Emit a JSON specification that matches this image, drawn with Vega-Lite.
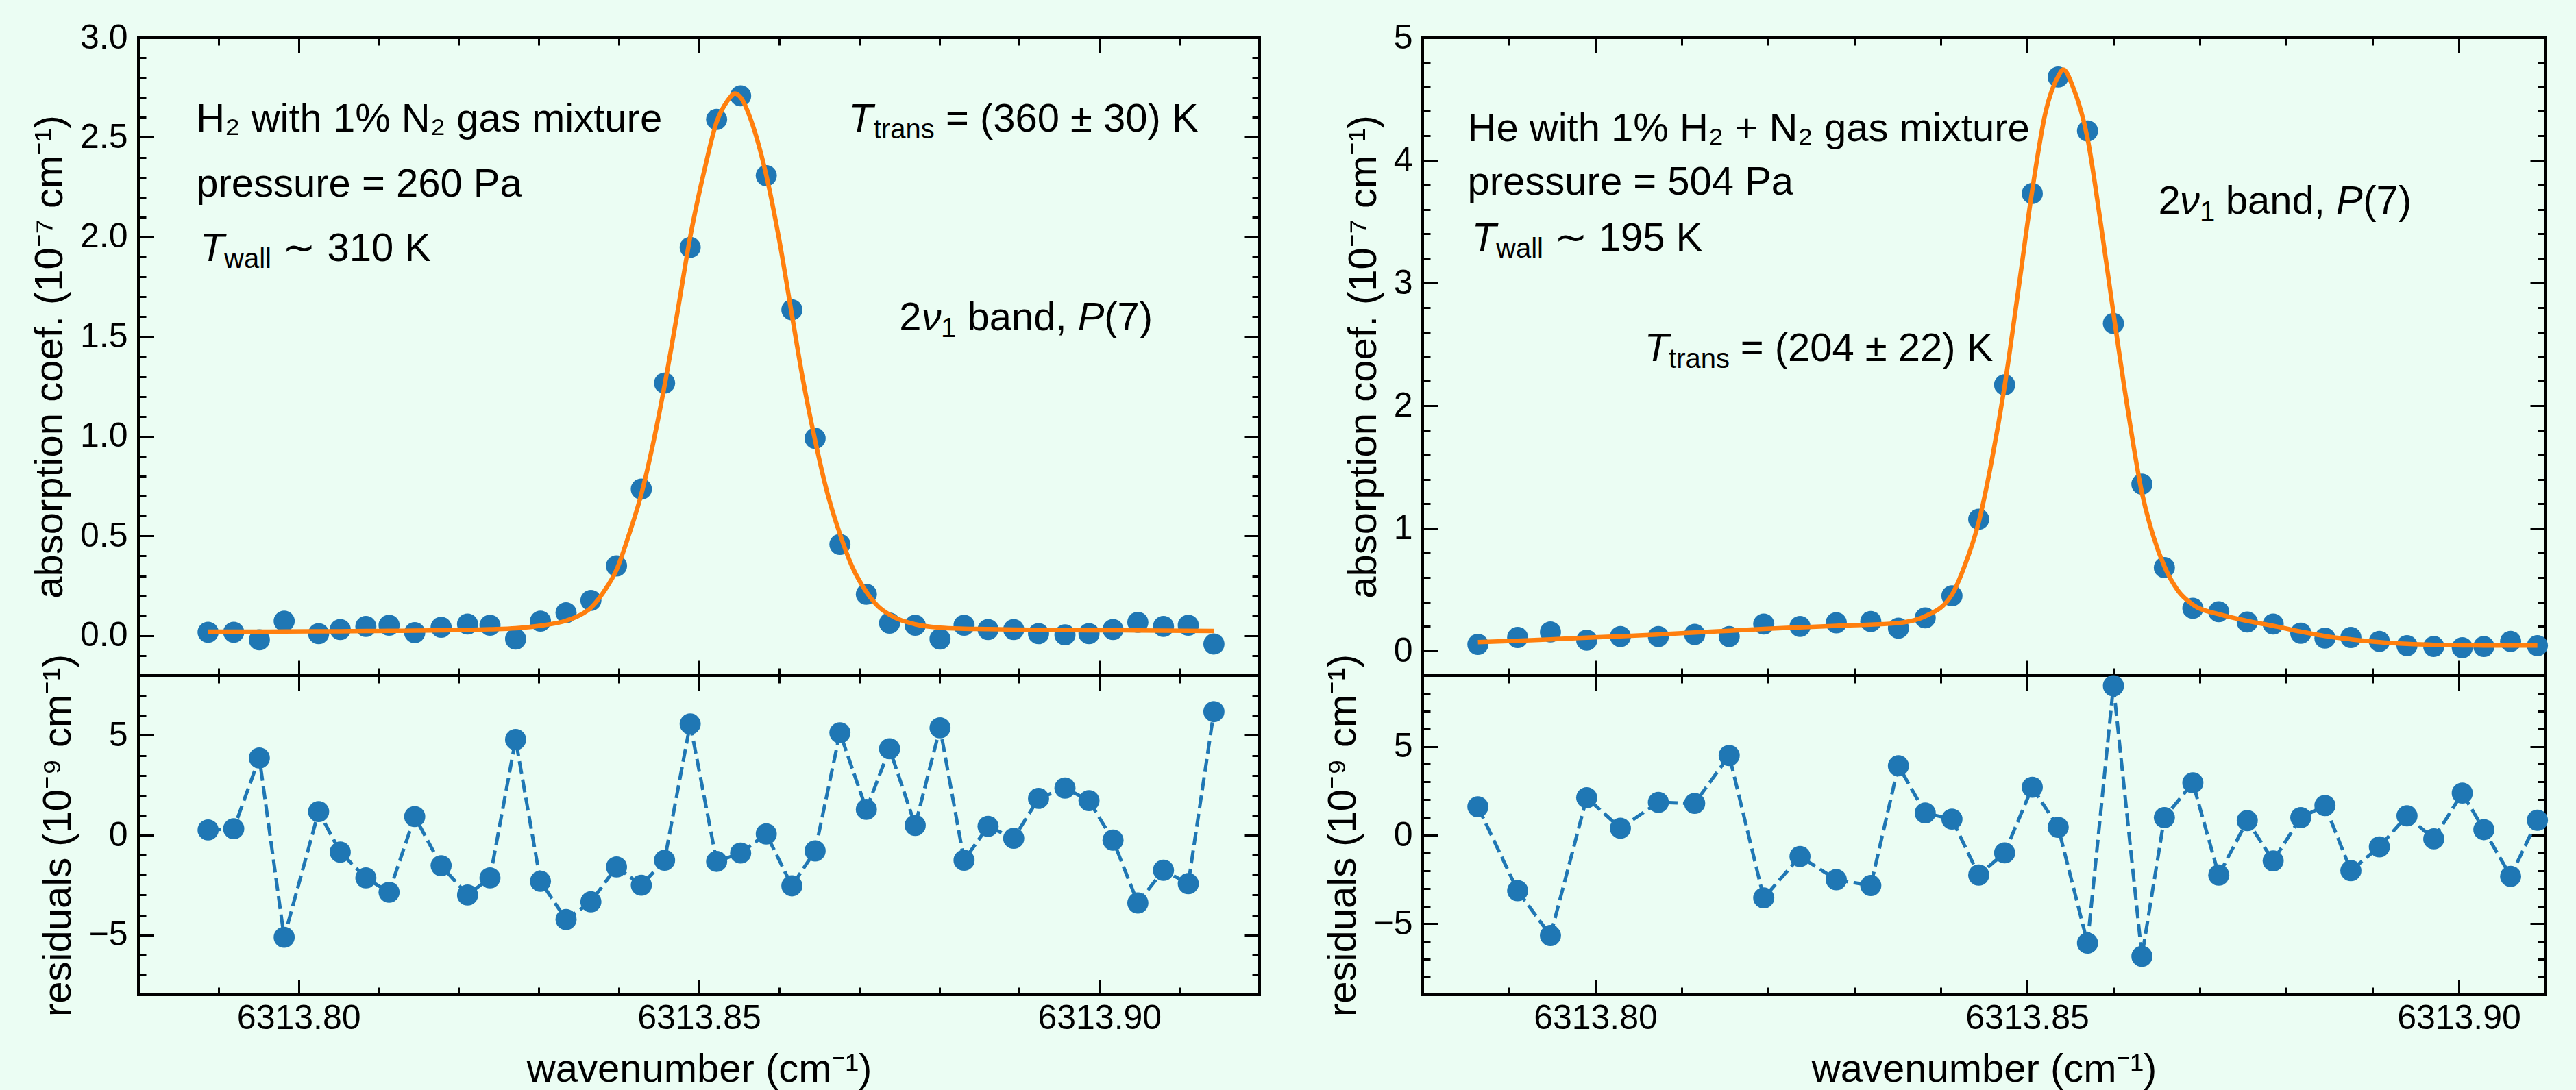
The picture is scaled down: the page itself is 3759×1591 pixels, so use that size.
{
"$schema": "https://vega.github.io/schema/vega-lite/v6.json",
"background": "#ebfdf3",
"padding": {"left": 42, "top": 28, "right": 47, "bottom": 5},
"config": {
  "view": {"stroke": "black", "strokeWidth": 4},
  "axis": {"labelFont": "Liberation Sans", "labelFontSize": 50, "labelColor": "black", "labelLimit": 1000, "titleFont": "Liberation Sans", "titleFontSize": 58, "titleFontWeight": "normal", "titleColor": "black", "titleLimit": 2000, "tickColor": "black", "tickWidth": 3, "domain": false, "grid": false, "labelFlush": false, "labelOverlap": false},
  "text": {"font": "Liberation Sans", "color": "black"}
},
"datasets": {
  "L": [
    {"x":6313.7887,"y":0.017,"r":0.26},{"x":6313.7919,"y":0.017,"r":0.32},{"x":6313.7951,"y":-0.021,"r":3.87},{"x":6313.7982,"y":0.073,"r":-5.12},
    {"x":6313.8025,"y":0.010,"r":1.18},{"x":6313.8052,"y":0.031,"r":-0.85},{"x":6313.8084,"y":0.046,"r":-2.14},{"x":6313.8113,"y":0.052,"r":-2.86},
    {"x":6313.8145,"y":0.015,"r":0.93},{"x":6313.8178,"y":0.042,"r":-1.53},{"x":6313.8211,"y":0.058,"r":-3.00},{"x":6313.8239,"y":0.052,"r":-2.14},
    {"x":6313.8271,"y":-0.017,"r":4.79},{"x":6313.8302,"y":0.073,"r":-2.31},{"x":6313.8334,"y":0.115,"r":-4.23},{"x":6313.8365,"y":0.177,"r":-3.34},
    {"x":6313.8397,"y":0.350,"r":-1.59},{"x":6313.8428,"y":0.735,"r":-2.51},{"x":6313.8457,"y":1.267,"r":-1.26},{"x":6313.8489,"y":1.948,"r":5.57},
    {"x":6313.8522,"y":2.590,"r":-1.32},{"x":6313.8552,"y":2.708,"r":-0.90},{"x":6313.8584,"y":2.308,"r":0.06},{"x":6313.8616,"y":1.635,"r":-2.54},
    {"x":6313.8645,"y":0.990,"r":-0.79},{"x":6313.8676,"y":0.458,"r":5.13},{"x":6313.8709,"y":0.208,"r":1.29},{"x":6313.8738,"y":0.063,"r":4.33},
    {"x":6313.8770,"y":0.052,"r":0.49},{"x":6313.8801,"y":-0.017,"r":5.38},{"x":6313.8831,"y":0.052,"r":-1.26},{"x":6313.8861,"y":0.031,"r":0.44},
    {"x":6313.8893,"y":0.031,"r":-0.16},{"x":6313.8924,"y":0.010,"r":1.84},{"x":6313.8957,"y":0.004,"r":2.36},{"x":6313.8987,"y":0.010,"r":1.73},
    {"x":6313.9017,"y":0.031,"r":-0.25},{"x":6313.9048,"y":0.067,"r":-3.40},{"x":6313.9080,"y":0.046,"r":-1.76},{"x":6313.9111,"y":0.052,"r":-2.43},
    {"x":6313.9143,"y":-0.042,"r":6.19}
  ],
  "Lfit": [
    {"x":6313.7887,"f":0.020},{"x":6313.7919,"f":0.020},{"x":6313.7951,"f":0.020},{"x":6313.7982,"f":0.021},{"x":6313.8025,"f":0.022},
    {"x":6313.8052,"f":0.022},{"x":6313.8084,"f":0.023},{"x":6313.8113,"f":0.024},{"x":6313.8145,"f":0.025},{"x":6313.8178,"f":0.027},
    {"x":6313.8211,"f":0.029},{"x":6313.8239,"f":0.032},{"x":6313.8271,"f":0.037},{"x":6313.8302,"f":0.050},{"x":6313.8334,"f":0.075},
    {"x":6313.8350,"f":0.100},{"x":6313.8365,"f":0.140},{"x":6313.8381,"f":0.220},{"x":6313.8397,"f":0.330},{"x":6313.8412,"f":0.500},
    {"x":6313.8428,"f":0.710},{"x":6313.8443,"f":0.970},{"x":6313.8457,"f":1.255},{"x":6313.8473,"f":1.620},{"x":6313.8489,"f":2.000},
    {"x":6313.8507,"f":2.340},{"x":6313.8522,"f":2.577},{"x":6313.8535,"f":2.680},{"x":6313.8545,"f":2.720},{"x":6313.8552,"f":2.700},
    {"x":6313.8568,"f":2.550},{"x":6313.8584,"f":2.310},{"x":6313.8600,"f":1.990},{"x":6313.8616,"f":1.610},{"x":6313.8630,"f":1.280},
    {"x":6313.8645,"f":0.980},{"x":6313.8660,"f":0.720},{"x":6313.8676,"f":0.510},{"x":6313.8692,"f":0.340},{"x":6313.8709,"f":0.220},
    {"x":6313.8723,"f":0.150},{"x":6313.8738,"f":0.105},{"x":6313.8770,"f":0.057},{"x":6313.8801,"f":0.040},{"x":6313.8831,"f":0.035},
    {"x":6313.8861,"f":0.033},{"x":6313.8893,"f":0.030},{"x":6313.8924,"f":0.029},{"x":6313.8957,"f":0.028},{"x":6313.8987,"f":0.027},
    {"x":6313.9017,"f":0.027},{"x":6313.9048,"f":0.026},{"x":6313.9080,"f":0.025},{"x":6313.9111,"f":0.024},{"x":6313.9143,"f":0.023}
  ],
  "R": [
    {"x":6313.7864,"y":0.054,"r":1.60},{"x":6313.7910,"y":0.110,"r":-3.13},{"x":6313.7948,"y":0.155,"r":-5.66},{"x":6313.7990,"y":0.088,"r":2.11},
    {"x":6313.8029,"y":0.118,"r":0.39},{"x":6313.8073,"y":0.118,"r":1.85},{"x":6313.8115,"y":0.135,"r":1.79},{"x":6313.8155,"y":0.118,"r":4.49},
    {"x":6313.8195,"y":0.220,"r":-3.54},{"x":6313.8237,"y":0.200,"r":-1.20},{"x":6313.8279,"y":0.230,"r":-2.51},{"x":6313.8319,"y":0.240,"r":-2.84},
    {"x":6313.8351,"y":0.186,"r":3.91},{"x":6313.8382,"y":0.270,"r":1.25},{"x":6313.8413,"y":0.450,"r":0.90},{"x":6313.8444,"y":1.074,"r":-2.25},
    {"x":6313.8474,"y":2.170,"r":-1.00},{"x":6313.8506,"y":3.730,"r":2.70},{"x":6313.8536,"y":4.680,"r":0.44},{"x":6313.8570,"y":4.240,"r":-6.09},
    {"x":6313.8600,"y":2.670,"r":8.42},{"x":6313.8633,"y":1.360,"r":-6.83},{"x":6313.8659,"y":0.680,"r":0.99},{"x":6313.8692,"y":0.348,"r":2.95},
    {"x":6313.8722,"y":0.320,"r":-2.25},{"x":6313.8755,"y":0.236,"r":0.82},{"x":6313.8785,"y":0.220,"r":-1.45},{"x":6313.8817,"y":0.145,"r":0.99},
    {"x":6313.8845,"y":0.105,"r":1.67},{"x":6313.8875,"y":0.110,"r":-2.00},{"x":6313.8908,"y":0.078,"r":-0.66},{"x":6313.8940,"y":0.044,"r":1.09},
    {"x":6313.8971,"y":0.037,"r":-0.21},{"x":6313.9004,"y":0.027,"r":2.37},{"x":6313.9029,"y":0.037,"r":0.31},{"x":6313.9060,"y":0.078,"r":-2.32},
    {"x":6313.9091,"y":0.044,"r":0.84}
  ],
  "Rfit": [
    {"x":6313.7864,"f":0.072},{"x":6313.7910,"f":0.083},{"x":6313.7948,"f":0.095},{"x":6313.7990,"f":0.108},{"x":6313.8029,"f":0.120},
    {"x":6313.8073,"f":0.135},{"x":6313.8115,"f":0.150},{"x":6313.8155,"f":0.165},{"x":6313.8195,"f":0.180},{"x":6313.8237,"f":0.193},
    {"x":6313.8279,"f":0.205},{"x":6313.8319,"f":0.215},{"x":6313.8351,"f":0.228},{"x":6313.8382,"f":0.283},{"x":6313.8413,"f":0.460},
    {"x":6313.8428,"f":0.700},{"x":6313.8444,"f":1.050},{"x":6313.8459,"f":1.550},{"x":6313.8474,"f":2.160},{"x":6313.8490,"f":2.950},
    {"x":6313.8506,"f":3.757},{"x":6313.8521,"f":4.380},{"x":6313.8536,"f":4.684},{"x":6313.8542,"f":4.740},{"x":6313.8553,"f":4.600},
    {"x":6313.8570,"f":4.180},{"x":6313.8585,"f":3.500},{"x":6313.8600,"f":2.754},{"x":6313.8617,"f":1.950},{"x":6313.8633,"f":1.290},
    {"x":6313.8646,"f":0.940},{"x":6313.8659,"f":0.690},{"x":6313.8675,"f":0.490},{"x":6313.8692,"f":0.378},{"x":6313.8722,"f":0.300},
    {"x":6313.8755,"f":0.245},{"x":6313.8785,"f":0.205},{"x":6313.8817,"f":0.158},{"x":6313.8845,"f":0.122},{"x":6313.8875,"f":0.095},
    {"x":6313.8908,"f":0.072},{"x":6313.8940,"f":0.058},{"x":6313.8971,"f":0.050},{"x":6313.9004,"f":0.046},{"x":6313.9029,"f":0.045},
    {"x":6313.9060,"f":0.044},{"x":6313.9091,"f":0.044}
  ],
  "ann": [
    {"p":"L","k":"n","x":6313.7872,"y":2.529,"t":"H₂ with 1% N₂ gas mixture"},
    {"p":"L","k":"n","x":6313.7872,"y":2.203,"t":"pressure = 260 Pa"},
    {"p":"L","k":"n","x":6313.7980,"y":1.880,"t":"∼ 310 K"},
    {"p":"L","k":"n","x":6313.8808,"y":2.529,"t":"= (360 ± 30) K"},
    {"p":"L","k":"n","x":6313.8750,"y":1.532,"t":"2"},
    {"p":"L","k":"n","x":6313.8835,"y":1.532,"t":"band,"},
    {"p":"L","k":"n","x":6313.9006,"y":1.532,"t":"(7)"},
    {"p":"L","k":"i","x":6313.7877,"y":1.880,"t":"T"},
    {"p":"L","k":"i","x":6313.8687,"y":2.529,"t":"T"},
    {"p":"L","k":"i","x":6313.8778,"y":1.532,"t":"ν"},
    {"p":"L","k":"i","x":6313.8973,"y":1.532,"t":"P"},
    {"p":"L","k":"s","x":6313.7907,"y":1.880,"t":"wall"},
    {"p":"L","k":"s","x":6313.8718,"y":2.529,"t":"trans"},
    {"p":"L","k":"s","x":6313.8802,"y":1.532,"t":"1"},
    {"p":"R","k":"n","x":6313.7852,"y":4.157,"t":"He with 1% H₂ + N₂ gas mixture"},
    {"p":"R","k":"n","x":6313.7852,"y":3.721,"t":"pressure = 504 Pa"},
    {"p":"R","k":"n","x":6313.7952,"y":3.263,"t":"∼ 195 K"},
    {"p":"R","k":"n","x":6313.8168,"y":2.364,"t":"= (204 ± 22) K"},
    {"p":"R","k":"n","x":6313.8652,"y":3.565,"t":"2"},
    {"p":"R","k":"n","x":6313.8730,"y":3.565,"t":"band,"},
    {"p":"R","k":"n","x":6313.8889,"y":3.565,"t":"(7)"},
    {"p":"R","k":"i","x":6313.7857,"y":3.263,"t":"T"},
    {"p":"R","k":"i","x":6313.8057,"y":2.364,"t":"T"},
    {"p":"R","k":"i","x":6313.8677,"y":3.565,"t":"ν"},
    {"p":"R","k":"i","x":6313.8858,"y":3.565,"t":"P"},
    {"p":"R","k":"s","x":6313.7885,"y":3.263,"t":"wall"},
    {"p":"R","k":"s","x":6313.8085,"y":2.364,"t":"trans"},
    {"p":"R","k":"s","x":6313.8700,"y":3.565,"t":"1"}
  ]
},
"concat": [
  {
    "width": 1636, "height": 931,
    "layer": [
      {"data": {"name": "L"}, "mark": {"type": "circle", "size": 950, "opacity": 1, "color": "#1f77b4"},
       "encoding": {
         "x": {"field": "x", "type": "quantitative", "scale": {"domain": [6313.78, 6313.92], "nice": false, "zero": false},
               "axis": {"orient": "bottom", "values": [6313.79,6313.80,6313.81,6313.82,6313.83,6313.84,6313.85,6313.86,6313.87,6313.88,6313.89,6313.90,6313.91], "tickSize": -11, "labels": false, "title": null, "minExtent": 0}},
         "y": {"field": "y", "type": "quantitative", "scale": {"domain": [-0.2, 3.0], "nice": false, "zero": false},
               "axis": {"orient": "left", "values": [-0.1,0,0.1,0.2,0.3,0.4,0.5,0.6,0.7,0.8,0.9,1.0,1.1,1.2,1.3,1.4,1.5,1.6,1.7,1.8,1.9,2.0,2.1,2.2,2.3,2.4,2.5,2.6,2.7,2.8,2.9], "tickSize": -11, "labels": false, "title": null, "minExtent": 0}}
       }},
      {"data": {"name": "Lfit"}, "mark": {"type": "line", "color": "#ff7f0e", "strokeWidth": 6.5, "interpolate": "monotone"},
       "encoding": {
         "x": {"field": "x", "type": "quantitative", "scale": {"domain": [6313.78, 6313.92], "nice": false, "zero": false},
               "axis": {"orient": "top", "values": [6313.79,6313.80,6313.81,6313.82,6313.83,6313.84,6313.85,6313.86,6313.87,6313.88,6313.89,6313.90,6313.91], "tickSize": -11, "labels": false, "title": null, "minExtent": 0}},
         "y": {"field": "f", "type": "quantitative", "scale": {"domain": [-0.2, 3.0], "nice": false, "zero": false},
               "axis": {"orient": "right", "values": [-0.1,0,0.1,0.2,0.3,0.4,0.5,0.6,0.7,0.8,0.9,1.0,1.1,1.2,1.3,1.4,1.5,1.6,1.7,1.8,1.9,2.0,2.1,2.2,2.3,2.4,2.5,2.6,2.7,2.8,2.9], "tickSize": -11, "labels": false, "title": null, "minExtent": 0}}
       }},
      {"data": {"name": "ann"}, "transform": [{"filter": "datum.p === 'L' && datum.k === 'n'"}],
       "mark": {"type": "text", "align": "left", "baseline": "alphabetic", "fontSize": 58},
       "encoding": {
         "text": {"field": "t"},
         "x": {"field": "x", "type": "quantitative", "scale": {"domain": [6313.78, 6313.92], "nice": false, "zero": false},
               "axis": {"orient": "bottom", "values": [6313.80, 6313.85, 6313.90], "tickSize": -22, "labels": false, "title": null, "minExtent": 0}},
         "y": {"field": "y", "type": "quantitative", "scale": {"domain": [-0.2, 3.0], "nice": false, "zero": false},
               "axis": {"orient": "left", "values": [0, 0.5, 1.0, 1.5, 2.0, 2.5], "tickSize": -22, "labels": false, "title": null, "minExtent": 0}}
       }},
      {"data": {"name": "ann"}, "transform": [{"filter": "datum.p === 'L' && datum.k === 'i'"}],
       "mark": {"type": "text", "align": "left", "baseline": "alphabetic", "fontSize": 58, "fontStyle": "italic"},
       "encoding": {
         "text": {"field": "t"},
         "x": {"field": "x", "type": "quantitative", "scale": {"domain": [6313.78, 6313.92], "nice": false, "zero": false},
               "axis": {"orient": "top", "values": [6313.80, 6313.85, 6313.90], "tickSize": -22, "labels": false, "title": null, "minExtent": 0}},
         "y": {"field": "y", "type": "quantitative", "scale": {"domain": [-0.2, 3.0], "nice": false, "zero": false},
               "axis": {"orient": "right", "values": [0, 0.5, 1.0, 1.5, 2.0, 2.5], "tickSize": -22, "labels": false, "title": null, "minExtent": 0}}
       }},
      {"data": {"name": "ann"}, "transform": [{"filter": "datum.p === 'L' && datum.k === 's'"}],
       "mark": {"type": "text", "align": "left", "baseline": "alphabetic", "fontSize": 40, "dy": 10},
       "encoding": {
         "text": {"field": "t"},
         "x": {"field": "x", "type": "quantitative", "scale": {"domain": [6313.78, 6313.92], "nice": false, "zero": false}, "axis": null},
         "y": {"field": "y", "type": "quantitative", "scale": {"domain": [-0.2, 3.0], "nice": false, "zero": false},
               "axis": {"orient": "left", "values": [0, 0.5, 1.0, 1.5, 2.0, 2.5, 3.0], "ticks": false, "format": ".1f", "labelPadding": 16, "title": "absorption coef. (10⁻⁷ cm⁻¹)", "titlePadding": 14}}
       }}
    ],
    "resolve": {"axis": {"x": "independent", "y": "independent"}}
  },
  {
    "width": 1638, "height": 931,
    "layer": [
      {"data": {"name": "R"}, "mark": {"type": "circle", "size": 950, "opacity": 1, "color": "#1f77b4"},
       "encoding": {
         "x": {"field": "x", "type": "quantitative", "scale": {"domain": [6313.78, 6313.91], "nice": false, "zero": false},
               "axis": {"orient": "bottom", "values": [6313.79,6313.80,6313.81,6313.82,6313.83,6313.84,6313.85,6313.86,6313.87,6313.88,6313.89,6313.90], "tickSize": -11, "labels": false, "title": null, "minExtent": 0}},
         "y": {"field": "y", "type": "quantitative", "scale": {"domain": [-0.2, 5.0], "nice": false, "zero": false},
               "axis": {"orient": "left", "values": [0,0.2,0.4,0.6,0.8,1.0,1.2,1.4,1.6,1.8,2.0,2.2,2.4,2.6,2.8,3.0,3.2,3.4,3.6,3.8,4.0,4.2,4.4,4.6,4.8], "tickSize": -11, "labels": false, "title": null, "minExtent": 0}}
       }},
      {"data": {"name": "Rfit"}, "mark": {"type": "line", "color": "#ff7f0e", "strokeWidth": 6.5, "interpolate": "monotone"},
       "encoding": {
         "x": {"field": "x", "type": "quantitative", "scale": {"domain": [6313.78, 6313.91], "nice": false, "zero": false},
               "axis": {"orient": "top", "values": [6313.79,6313.80,6313.81,6313.82,6313.83,6313.84,6313.85,6313.86,6313.87,6313.88,6313.89,6313.90], "tickSize": -11, "labels": false, "title": null, "minExtent": 0}},
         "y": {"field": "f", "type": "quantitative", "scale": {"domain": [-0.2, 5.0], "nice": false, "zero": false},
               "axis": {"orient": "right", "values": [0,0.2,0.4,0.6,0.8,1.0,1.2,1.4,1.6,1.8,2.0,2.2,2.4,2.6,2.8,3.0,3.2,3.4,3.6,3.8,4.0,4.2,4.4,4.6,4.8], "tickSize": -11, "labels": false, "title": null, "minExtent": 0}}
       }},
      {"data": {"name": "ann"}, "transform": [{"filter": "datum.p === 'R' && datum.k === 'n'"}],
       "mark": {"type": "text", "align": "left", "baseline": "alphabetic", "fontSize": 58},
       "encoding": {
         "text": {"field": "t"},
         "x": {"field": "x", "type": "quantitative", "scale": {"domain": [6313.78, 6313.91], "nice": false, "zero": false},
               "axis": {"orient": "bottom", "values": [6313.80, 6313.85, 6313.90], "tickSize": -22, "labels": false, "title": null, "minExtent": 0}},
         "y": {"field": "y", "type": "quantitative", "scale": {"domain": [-0.2, 5.0], "nice": false, "zero": false},
               "axis": {"orient": "left", "values": [0, 1, 2, 3, 4], "tickSize": -22, "labels": false, "title": null, "minExtent": 0}}
       }},
      {"data": {"name": "ann"}, "transform": [{"filter": "datum.p === 'R' && datum.k === 'i'"}],
       "mark": {"type": "text", "align": "left", "baseline": "alphabetic", "fontSize": 58, "fontStyle": "italic"},
       "encoding": {
         "text": {"field": "t"},
         "x": {"field": "x", "type": "quantitative", "scale": {"domain": [6313.78, 6313.91], "nice": false, "zero": false},
               "axis": {"orient": "top", "values": [6313.80, 6313.85, 6313.90], "tickSize": -22, "labels": false, "title": null, "minExtent": 0}},
         "y": {"field": "y", "type": "quantitative", "scale": {"domain": [-0.2, 5.0], "nice": false, "zero": false},
               "axis": {"orient": "right", "values": [0, 1, 2, 3, 4], "tickSize": -22, "labels": false, "title": null, "minExtent": 0}}
       }},
      {"data": {"name": "ann"}, "transform": [{"filter": "datum.p === 'R' && datum.k === 's'"}],
       "mark": {"type": "text", "align": "left", "baseline": "alphabetic", "fontSize": 40, "dy": 10},
       "encoding": {
         "text": {"field": "t"},
         "x": {"field": "x", "type": "quantitative", "scale": {"domain": [6313.78, 6313.91], "nice": false, "zero": false}, "axis": null},
         "y": {"field": "y", "type": "quantitative", "scale": {"domain": [-0.2, 5.0], "nice": false, "zero": false},
               "axis": {"orient": "left", "values": [0, 1, 2, 3, 4, 5], "ticks": false, "format": "d", "labelPadding": 15, "title": "absorption coef. (10⁻⁷ cm⁻¹)", "titlePadding": 14}}
       }}
    ],
    "resolve": {"axis": {"x": "independent", "y": "independent"}}
  },
  {
    "width": 1636, "height": 466,
    "layer": [
      {"data": {"name": "L"}, "mark": {"type": "line", "color": "#1f77b4", "strokeWidth": 5, "strokeDash": [19, 8]},
       "encoding": {
         "x": {"field": "x", "type": "quantitative", "scale": {"domain": [6313.78, 6313.92], "nice": false, "zero": false},
               "axis": {"orient": "bottom", "values": [6313.79,6313.80,6313.81,6313.82,6313.83,6313.84,6313.85,6313.86,6313.87,6313.88,6313.89,6313.90,6313.91], "tickSize": -11, "labels": false, "title": null, "minExtent": 0}},
         "y": {"field": "r", "type": "quantitative", "scale": {"domain": [-8, 8], "nice": false, "zero": false},
               "axis": {"orient": "left", "values": [-7,-6,-5,-4,-3,-2,-1,0,1,2,3,4,5,6,7], "tickSize": -11, "labels": false, "title": null, "minExtent": 0}}
       }},
      {"data": {"name": "L"}, "mark": {"type": "circle", "size": 950, "opacity": 1, "color": "#1f77b4"},
       "encoding": {
         "x": {"field": "x", "type": "quantitative", "scale": {"domain": [6313.78, 6313.92], "nice": false, "zero": false},
               "axis": {"orient": "top", "values": [6313.79,6313.80,6313.81,6313.82,6313.83,6313.84,6313.85,6313.86,6313.87,6313.88,6313.89,6313.90,6313.91], "tickSize": -11, "labels": false, "title": null, "minExtent": 0}},
         "y": {"field": "r", "type": "quantitative", "scale": {"domain": [-8, 8], "nice": false, "zero": false},
               "axis": {"orient": "right", "values": [-7,-6,-5,-4,-3,-2,-1,0,1,2,3,4,5,6,7], "tickSize": -11, "labels": false, "title": null, "minExtent": 0}}
       }},
      {"data": {"name": "L"}, "mark": {"type": "circle", "opacity": 0},
       "encoding": {
         "x": {"field": "x", "type": "quantitative", "scale": {"domain": [6313.78, 6313.92], "nice": false, "zero": false},
               "axis": {"orient": "bottom", "values": [6313.80, 6313.85, 6313.90], "tickSize": -22, "labels": false, "title": null, "minExtent": 0}},
         "y": {"field": "r", "type": "quantitative", "scale": {"domain": [-8, 8], "nice": false, "zero": false},
               "axis": {"orient": "left", "values": [-5, 0, 5], "tickSize": -22, "labels": false, "title": null, "minExtent": 0}}
       }},
      {"data": {"name": "L"}, "mark": {"type": "circle", "opacity": 0},
       "encoding": {
         "x": {"field": "x", "type": "quantitative", "scale": {"domain": [6313.78, 6313.92], "nice": false, "zero": false},
               "axis": {"orient": "top", "values": [6313.80, 6313.85, 6313.90], "tickSize": -22, "labels": false, "title": null, "minExtent": 0}},
         "y": {"field": "r", "type": "quantitative", "scale": {"domain": [-8, 8], "nice": false, "zero": false},
               "axis": {"orient": "right", "values": [-5, 0, 5], "tickSize": -22, "labels": false, "title": null, "minExtent": 0}}
       }},
      {"data": {"name": "L"}, "mark": {"type": "circle", "opacity": 0},
       "encoding": {
         "x": {"field": "x", "type": "quantitative", "scale": {"domain": [6313.78, 6313.92], "nice": false, "zero": false},
               "axis": {"orient": "bottom", "values": [6313.80, 6313.85, 6313.90], "ticks": false, "format": ".2f", "labelPadding": 9, "title": "wavenumber (cm⁻¹)", "titlePadding": 21}},
         "y": {"field": "r", "type": "quantitative", "scale": {"domain": [-8, 8], "nice": false, "zero": false},
               "axis": {"orient": "left", "values": [-5, 0, 5], "ticks": false, "format": "d", "labelPadding": 16, "title": "residuals (10⁻⁹ cm⁻¹)", "titlePadding": 14}}
       }}
    ],
    "resolve": {"axis": {"x": "independent", "y": "independent"}}
  },
  {
    "width": 1638, "height": 466,
    "layer": [
      {"data": {"name": "R"}, "mark": {"type": "line", "color": "#1f77b4", "strokeWidth": 5, "strokeDash": [19, 8]},
       "encoding": {
         "x": {"field": "x", "type": "quantitative", "scale": {"domain": [6313.78, 6313.91], "nice": false, "zero": false},
               "axis": {"orient": "bottom", "values": [6313.79,6313.80,6313.81,6313.82,6313.83,6313.84,6313.85,6313.86,6313.87,6313.88,6313.89,6313.90], "tickSize": -11, "labels": false, "title": null, "minExtent": 0}},
         "y": {"field": "r", "type": "quantitative", "scale": {"domain": [-9, 9], "nice": false, "zero": false},
               "axis": {"orient": "left", "values": [-8,-7,-6,-5,-4,-3,-2,-1,0,1,2,3,4,5,6,7,8], "tickSize": -11, "labels": false, "title": null, "minExtent": 0}}
       }},
      {"data": {"name": "R"}, "mark": {"type": "circle", "size": 950, "opacity": 1, "color": "#1f77b4"},
       "encoding": {
         "x": {"field": "x", "type": "quantitative", "scale": {"domain": [6313.78, 6313.91], "nice": false, "zero": false},
               "axis": {"orient": "top", "values": [6313.79,6313.80,6313.81,6313.82,6313.83,6313.84,6313.85,6313.86,6313.87,6313.88,6313.89,6313.90], "tickSize": -11, "labels": false, "title": null, "minExtent": 0}},
         "y": {"field": "r", "type": "quantitative", "scale": {"domain": [-9, 9], "nice": false, "zero": false},
               "axis": {"orient": "right", "values": [-8,-7,-6,-5,-4,-3,-2,-1,0,1,2,3,4,5,6,7,8], "tickSize": -11, "labels": false, "title": null, "minExtent": 0}}
       }},
      {"data": {"name": "R"}, "mark": {"type": "circle", "opacity": 0},
       "encoding": {
         "x": {"field": "x", "type": "quantitative", "scale": {"domain": [6313.78, 6313.91], "nice": false, "zero": false},
               "axis": {"orient": "bottom", "values": [6313.80, 6313.85, 6313.90], "tickSize": -22, "labels": false, "title": null, "minExtent": 0}},
         "y": {"field": "r", "type": "quantitative", "scale": {"domain": [-9, 9], "nice": false, "zero": false},
               "axis": {"orient": "left", "values": [-5, 0, 5], "tickSize": -22, "labels": false, "title": null, "minExtent": 0}}
       }},
      {"data": {"name": "R"}, "mark": {"type": "circle", "opacity": 0},
       "encoding": {
         "x": {"field": "x", "type": "quantitative", "scale": {"domain": [6313.78, 6313.91], "nice": false, "zero": false},
               "axis": {"orient": "top", "values": [6313.80, 6313.85, 6313.90], "tickSize": -22, "labels": false, "title": null, "minExtent": 0}},
         "y": {"field": "r", "type": "quantitative", "scale": {"domain": [-9, 9], "nice": false, "zero": false},
               "axis": {"orient": "right", "values": [-5, 0, 5], "tickSize": -22, "labels": false, "title": null, "minExtent": 0}}
       }},
      {"data": {"name": "R"}, "mark": {"type": "circle", "opacity": 0},
       "encoding": {
         "x": {"field": "x", "type": "quantitative", "scale": {"domain": [6313.78, 6313.91], "nice": false, "zero": false},
               "axis": {"orient": "bottom", "values": [6313.80, 6313.85, 6313.90], "ticks": false, "format": ".2f", "labelPadding": 9, "title": "wavenumber (cm⁻¹)", "titlePadding": 21}},
         "y": {"field": "r", "type": "quantitative", "scale": {"domain": [-9, 9], "nice": false, "zero": false},
               "axis": {"orient": "left", "values": [-5, 0, 5], "ticks": false, "format": "d", "labelPadding": 15, "title": "residuals (10⁻⁹ cm⁻¹)", "titlePadding": 14}}
       }}
    ],
    "resolve": {"axis": {"x": "independent", "y": "independent"}}
  }
],
"columns": 2,
"spacing": {"row": 0, "column": 236},
"bounds": "flush",
"align": "all"
}
